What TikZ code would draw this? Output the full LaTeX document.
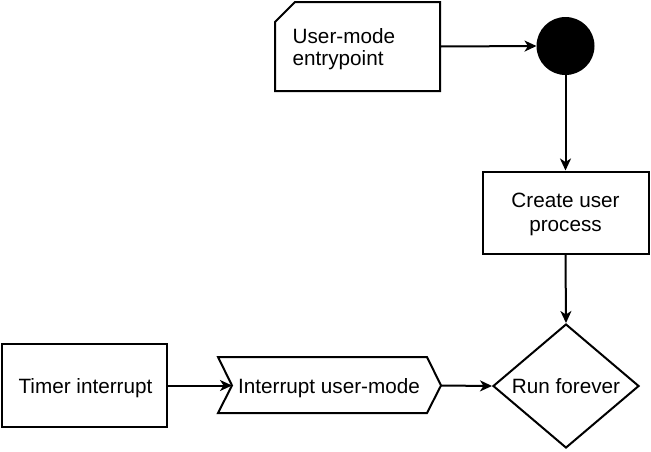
\documentclass[tikz,border=0pt]{standalone}
\usepackage{fontspec}
\setmainfont{Liberation Sans}
\usetikzlibrary{arrows.meta,shapes.geometric}
\newcommand{\lineboxc}[3]{\vtop{\baselineskip=#1\lineskiplimit=-100pt\lineskip=0pt\halign{\hfil##\hfil\cr #2\cr #3\cr}}}
\newcommand{\lineboxl}[3]{\vtop{\baselineskip=#1\lineskiplimit=-100pt\lineskip=0pt\halign{##\hfil\cr #2\cr #3\cr}}}
\begin{document}
\begin{tikzpicture}[x=1pt,y=-1pt,
  line width=2pt,
  txt/.style={font=\fontsize{20.7}{24.4}\selectfont, inner sep=0pt, anchor=base},
  arr/.style={-{Stealth[length=12pt,width=11pt,inset=3.5pt]}},
  shp/.style={draw=black, fill=white}]
\useasboundingbox (0,0) rectangle (651,451);
% shapes
\draw[shp] (295,2) -- (440,2) -- (440,91) -- (275,91) -- (275,22) -- cycle;
\node[txt, anchor=base west] (note) at (291.7,43.3) {\lineboxl{21.7pt}{User-mode}{entrypoint}};
\coordinate (noteE) at (440,46.5);
\node[circle, fill=black, draw=black, minimum size=56pt, inner sep=0pt] (start) at (565.5,46) {};
\node[shp, minimum width=166pt, minimum height=82pt] (create) at (565.5,212.5) {};
\node[txt] (createlbl) at (565.5,207.3) {\lineboxc{24.4pt}{Create user}{process}};
\node[shp, diamond, minimum width=146pt, minimum height=124pt, inner sep=0pt] (run) at (566,386) {};
\node[txt] (runlbl) at (566,393.3) {Run forever};
\node[shp, minimum width=165pt, minimum height=83pt] (timer) at (84.5,385.5) {};
\node[txt] (timerlbl) at (85.5,393.8) {Timer interrupt};
\draw[shp] (218,357) -- (427,357) -- (441,385.5) -- (427,413) -- (218,413) -- (232,385.5) -- cycle;
\coordinate (chevW) at (232,385.5);
\coordinate (chevE) at (441,385.5);
\node[txt] (interrupt) at (329,393.3) {Interrupt user-mode};
% connectors
\draw[arr] (noteE) -- (start.west);
\draw[arr] (start.south) -- (create.north);
\draw[arr] (create.south) -- (run.north);
\draw[arr] (timer.east) -- (chevW);
\draw[arr] (chevE) -- (run.west);
\end{tikzpicture}
\end{document}
